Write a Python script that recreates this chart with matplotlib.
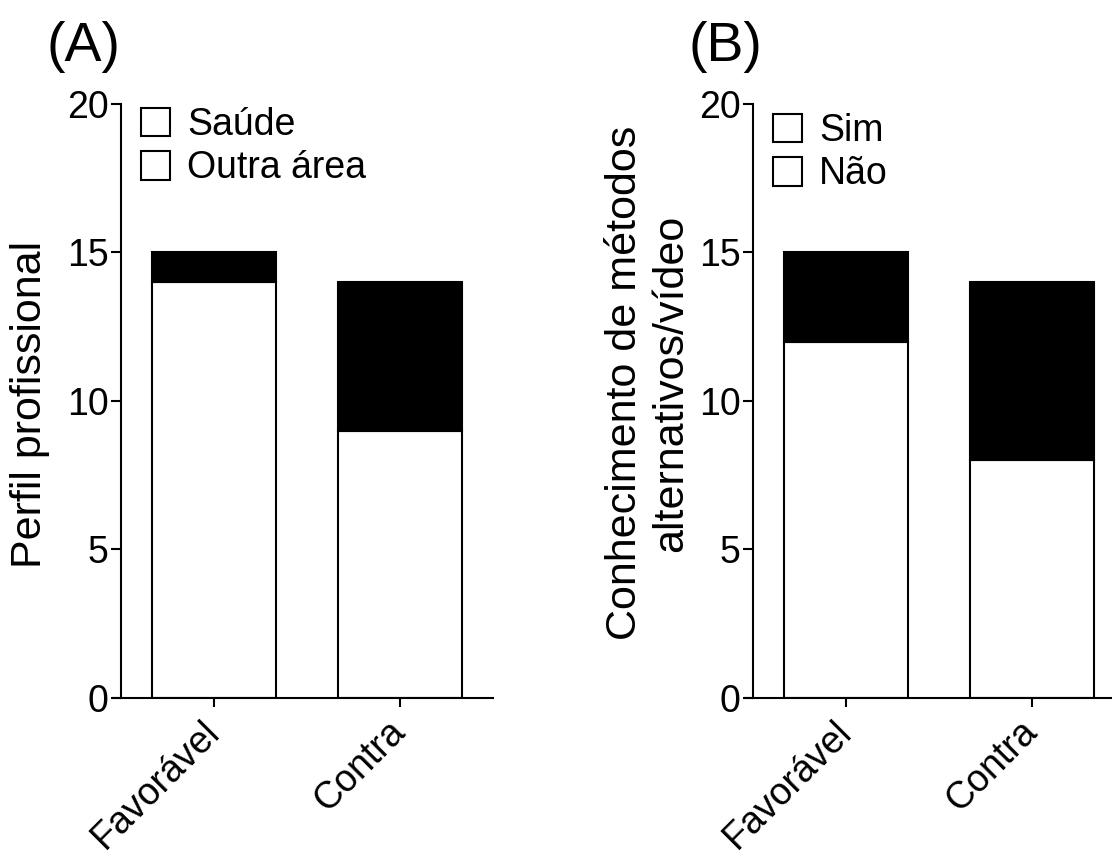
import matplotlib
matplotlib.use("Agg")
import matplotlib.pyplot as plt
from matplotlib.patches import Patch

plt.rcParams["font.family"] = ["Liberation Sans", "DejaVu Sans"]

# data
categories = ["Favorável", "Contra"]

# panel A: perfil profissional
saude = [14, 9]
outra_area = [1, 5]

# panel B: conhecimento de métodos alternativos/vídeo
sim = [12, 8]
nao = [3, 6]

FS = 27
LABEL_FS = 31
LW = 1.5


def draw_panel(ax, bottom_vals, top_vals, labels, ylabel, label_xy, leg_xy):
    x = range(len(categories))
    ax.bar(x, bottom_vals, width=2 / 3, color="white", edgecolor="black", linewidth=LW)
    ax.bar(x, top_vals, width=2 / 3, bottom=bottom_vals, color="black",
           edgecolor="black", linewidth=LW)

    ax.set_xlim(-0.545, 1.5)
    ax.set_ylim(0, 20)
    ax.set_yticks([0, 5, 10, 15, 20])
    ax.set_xticks(list(x))
    ax.set_xticklabels(categories, rotation=45, ha="right", va="center",
                       rotation_mode="anchor")

    for s in ("top", "right"):
        ax.spines[s].set_visible(False)
    ax.spines["left"].set_position(("data", -0.5))
    ax.spines["left"].set_linewidth(LW)
    ax.spines["bottom"].set_linewidth(LW)
    ax.tick_params(axis="y", length=7, width=LW, labelsize=FS, pad=2)
    ax.tick_params(axis="x", length=6.5, width=LW, labelsize=FS, pad=14)

    ax.set_ylabel(ylabel, fontsize=LABEL_FS, linespacing=1.2)
    ax.yaxis.set_label_coords(*label_xy)

    handles = [Patch(facecolor="white", edgecolor="black", linewidth=LW),
               Patch(facecolor="white", edgecolor="black", linewidth=LW)]
    ax.legend(handles, labels, loc="upper left", bbox_to_anchor=leg_xy,
              frameon=False, fontsize=FS, handlelength=0.78, handleheight=0.8,
              handletextpad=0.45, labelspacing=0.2, borderpad=0, borderaxespad=0)


fig = plt.figure(figsize=(11.12, 8.51), dpi=100)
ax_a = fig.add_axes([112.6 / 1112, 0.1798, 380.4 / 1112, 0.698])
ax_b = fig.add_axes([744.6 / 1112, 0.1798, 380.4 / 1112, 0.698])

draw_panel(ax_a, saude, outra_area, ["Saúde", "Outra área"],
           "Perfil profissional", (-0.165, 0.495), (0.075, 0.995))
draw_panel(ax_b, sim, nao, ["Sim", "Não"],
           "Conhecimento de métodos\nalternativos/vídeo", (-0.14, 0.53), (0.075, 0.985))

fig.text(46 / 1112, 1 - 61 / 851, "(A)", fontsize=40, ha="left", va="baseline")
fig.text(688 / 1112, 1 - 61 / 851, "(B)", fontsize=40, ha="left", va="baseline")

fig.savefig("out.png", dpi=100)
